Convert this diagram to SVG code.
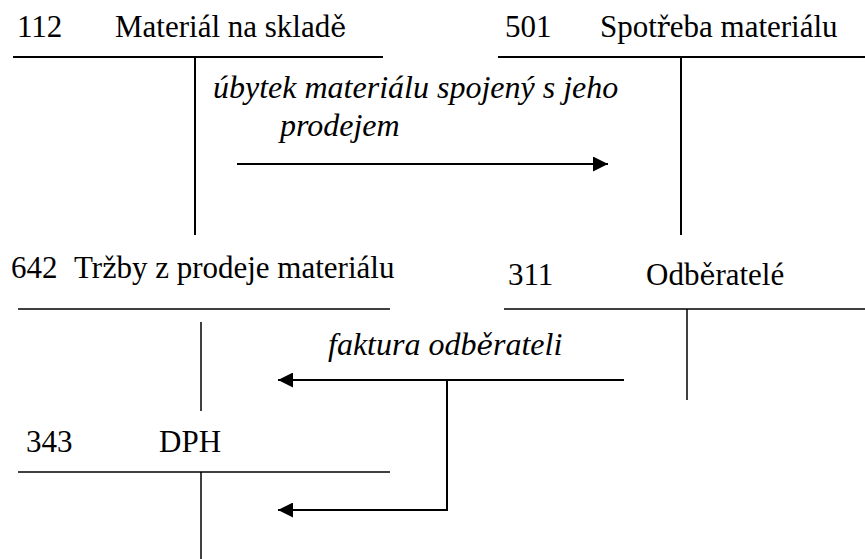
<svg xmlns="http://www.w3.org/2000/svg" width="865" height="559" viewBox="0 0 865 559">
<style>
.ln{stroke:#000;stroke-width:2;fill:none}
.ln2{stroke:#000;stroke-width:1.5;fill:none}
</style>
<defs>
<marker id="ah" markerWidth="15" markerHeight="15" viewBox="0 0 15 15" refX="15" refY="7.5" orient="auto" markerUnits="userSpaceOnUse">
<path d="M0,0 L15,7.5 L0,15 Z" fill="#000"/>
</marker>
</defs>
<g id="acc112">
<text font-family="Liberation Serif" font-size="31" x="17" y="37">112</text>
<text font-family="Liberation Serif" font-size="31" x="115" y="37">Materiál na sklad<tspan font-family="DejaVu Serif" font-size="27">ě</tspan></text>
<line class="ln" x1="13" y1="57" x2="383" y2="57"/>
<line class="ln" x1="195" y1="57" x2="195" y2="235"/>
</g>
<g id="acc501">
<text font-family="Liberation Serif" font-size="31" x="505" y="37">501</text>
<text font-family="Liberation Serif" font-size="31" x="600" y="37">Spot<tspan font-family="DejaVu Serif" font-size="27">ř</tspan>eba materiálu</text>
<line class="ln" x1="498" y1="57" x2="865" y2="57"/>
<line class="ln" x1="681" y1="57" x2="681" y2="235"/>
</g>
<g id="acc642">
<text font-family="Liberation Serif" font-size="31" x="11" y="278">642</text>
<text font-family="Liberation Serif" font-size="31" x="74" y="278">Tr<tspan font-family="DejaVu Serif" font-size="27">ž</tspan>by z prodeje materiálu</text>
<line class="ln2" x1="18" y1="309" x2="390" y2="309"/>
<line class="ln2" x1="201" y1="322" x2="201" y2="411"/>
</g>
<g id="acc311">
<text font-family="Liberation Serif" font-size="31" x="508" y="285">311</text>
<text font-family="Liberation Serif" font-size="31" x="646" y="285">Odb<tspan font-family="DejaVu Serif" font-size="27">ě</tspan>ratelé</text>
<line class="ln2" x1="504" y1="309" x2="865" y2="309"/>
<line class="ln2" x1="687" y1="309" x2="687" y2="400"/>
</g>
<g id="acc343">
<text font-family="Liberation Serif" font-size="31" x="26" y="452">343</text>
<text font-family="Liberation Serif" font-size="31" x="159" y="452">DPH</text>
<line class="ln2" x1="18" y1="472" x2="390" y2="472"/>
<line class="ln2" x1="201" y1="472" x2="201" y2="559"/>
</g>
<g id="connectors">
<text font-family="Liberation Serif" font-size="32" font-style="italic" x="213" y="98">úbytek materiálu spojený s jeho</text>
<text font-family="Liberation Serif" font-size="32" font-style="italic" x="280" y="136">prodejem</text>
<line class="ln" x1="237" y1="164" x2="608" y2="164" marker-end="url(#ah)"/>
<text font-family="Liberation Serif" font-size="32" font-style="italic" x="328" y="355">faktura odb<tspan font-family="DejaVu Serif" font-size="28">ě</tspan>rateli</text>
<line class="ln" x1="624" y1="380" x2="278" y2="380" marker-end="url(#ah)"/>
<polyline class="ln" points="447,380 447,510 278,510" marker-end="url(#ah)"/>
</g>
</svg>
